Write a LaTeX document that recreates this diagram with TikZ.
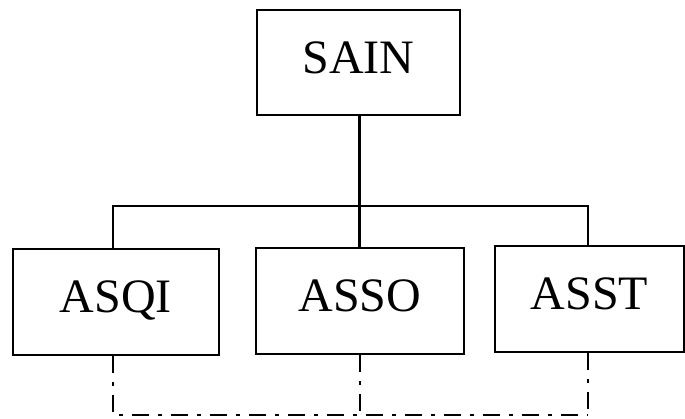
\documentclass[tikz,border=0pt]{standalone}
\usepackage{fontspec}
\setmainfont{Liberation Serif}
\begin{document}
\begin{tikzpicture}[x=1pt,y=-1pt,
  box/.style={draw,line width=2.6pt,inner sep=0pt,text height=31pt,text depth=9pt,
    font=\fontsize{48}{50}\selectfont},
  conn/.style={line width=2.5pt},
  dd/.style={line width=2.8pt,dash pattern=on 17pt off 9pt on 4pt off 9pt}]
\useasboundingbox (0,0) rectangle (685,419);
\node[box,minimum width=203pt,minimum height=105pt] (sain) at (358.5,62.5) {SAIN};
\node[box,minimum width=206pt,minimum height=106pt] (asqi) at (116,302) {ASQI};
\node[box,minimum width=208pt,minimum height=106pt] (asso) at (360,301) {ASSO};
\node[box,minimum width=189pt,minimum height=106pt] (asst) at (589.5,299) {ASST};
\coordinate (jl) at (113,206);
\coordinate (jm) at (359.5,206);
\coordinate (jr) at (588,206);
\coordinate (bl) at (113,415);
\coordinate (bm) at (360,415);
\coordinate (br) at (588,415);
\draw[conn] (sain.south -| jm) -- (jm);
\draw[conn] (jl |- asqi.north) -- (jl) -- (jr) -- (jr |- asst.north);
\draw[conn] (jm) -- (jm |- asso.north);
\draw[dd] (bl |- asqi.south) -- (bl) -- (br);
\draw[dd] (bm |- asso.south) -- (bm);
\draw[dd] (br |- asst.south) -- (br);
\end{tikzpicture}
\end{document}
